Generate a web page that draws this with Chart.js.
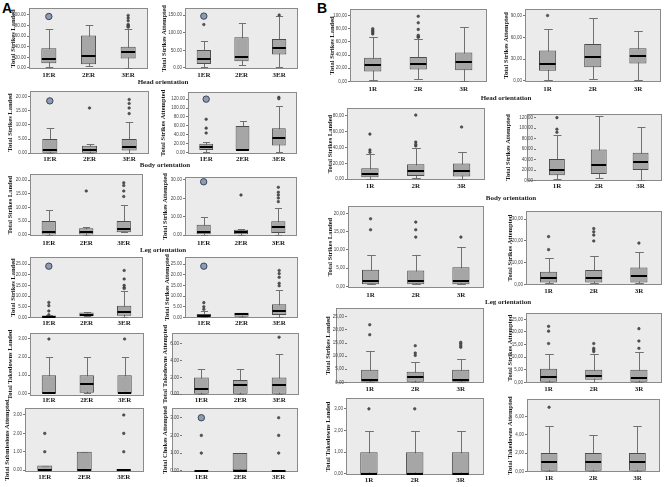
<!DOCTYPE html>
<html><head><meta charset="utf-8">
<script src="https://cdn.jsdelivr.net/npm/chart.js@4.4.1/dist/chart.umd.min.js"></script>
<style>
html,body{margin:0;padding:0;background:#fff;width:669px;height:487px;overflow:hidden;position:relative}
canvas{position:absolute}
.lbl{position:absolute;font-family:"Liberation Serif",serif;font-weight:bold;font-size:7px;color:#222;white-space:nowrap;transform:translate(-50%,-50%);opacity:0.999;will-change:transform}
.big{position:absolute;font-family:"Liberation Sans",Arial,sans-serif;font-weight:bold;font-size:14px;color:#000;line-height:14px}
</style></head><body>
<div class="big" style="left:2px;top:1px">A</div>
<div class="big" style="left:317px;top:1px">B</div>
<div class="lbl" style="left:163px;top:82px">Head orientation</div>
<div class="lbl" style="left:165px;top:165px">Body orientation</div>
<div class="lbl" style="left:163px;top:250px">Leg orientation</div>
<div class="lbl" style="left:506px;top:98px">Head orientation</div>
<div class="lbl" style="left:511px;top:198px">Body orientation</div>
<div class="lbl" style="left:508px;top:302px">Leg orientation</div>
<script>
// ---------- categories ----------
const catsA = ['1ER', '2ER', '3ER'];
const catsB = ['1R', '2R', '3R'];

// ---------- data: [lower whisker, Q1, median, Q3, upper whisker] per category ----------
// Panel A
const A_headLanded = [[2, 9, 16, 37, 73], [3, 7, 23, 61, 81], [0, 18, 30, 40, 73]];
const A_headLanded_out = [[], [], [99, 94, 89, 82, 80, 78, 77]];
const A_headLanded_mark = [97, null, null];
const A_headLanded_ticks = [0, 20, 40, 60, 80, 100];

const A_headAtt = [[4, 11, 25, 51, 75], [9, 19, 30, 87, 127], [2, 38, 56, 82, 147]];
const A_headAtt_out = [[123], [], [150]];
const A_headAtt_mark = [147, null, null];
const A_headAtt_ticks = [0, 50, 100, 150];

const A_bodyLanded = [[0, 0, 1.2, 5, 9], [0, 0, 1.2, 2.6, 3.2], [0, 0.9, 2.3, 5, 11]];
const A_bodyLanded_out = [[], [16], [19, 17.6, 16, 14]];
const A_bodyLanded_mark = [18.5, null, null];
const A_bodyLanded_ticks = [0, 5, 10, 15, 20];

const A_bodyAtt = [[2, 6, 13.5, 20, 25], [5, 5, 7, 60, 72], [2, 16, 32, 55, 104]];
const A_bodyAtt_out = [[75, 55, 44], [], [124, 121]];
const A_bodyAtt_mark = [120, null, null];
const A_bodyAtt_ticks = [0, 20, 40, 60, 80, 100, 120];

const A_legLanded = [[0, 0, 1.2, 5.1, 9], [0, 0, 1.2, 2.4, 3], [1, 1, 2.1, 5.1, 11]];
const A_legLanded_out = [[], [16], [19, 18, 16, 14]];
const A_legLanded_mark = [null, null, null];
const A_legLanded_ticks = [0, 5, 10, 15, 20];

const A_legAtt = [[0, 0.4, 1.8, 5.6, 10], [0, 0.4, 1.8, 2.9, 3.3], [0, 1.1, 4.2, 7.5, 15]];
const A_legAtt_out = [[], [21.8], [26, 23.3, 21.8, 20.2, 18.2]];
const A_legAtt_mark = [29, null, null];
const A_legAtt_ticks = [0, 10, 20, 30];

const A_r4Landed = [[0, 0, 0.3, 0.9, 0.9], [0.5, 0.5, 1.2, 2.3, 2.3], [0, 0.8, 2.5, 5.4, 12.4]];
const A_r4Landed_out = [[7, 5.5, 3, 1.2], [], [22, 18, 15, 14, 13.5]];
const A_r4Landed_mark = [24, null, null];
const A_r4Landed_ticks = [0, 5, 10, 15, 20, 25];

const A_r4Att = [[0, 0, 0.8, 1.6, 3], [0.3, 0.3, 1.4, 2.2, 2.2], [0, 1.1, 3.1, 6.2, 13]];
const A_r4Att_out = [[6.9, 5, 3.8], [], [22, 20.5, 18.8, 16, 14.8]];
const A_r4Att_mark = [24, null, null];
const A_r4Att_ticks = [0, 5, 10, 15, 20, 25];

const A_tdLanded = [[0, 0, 0, 1, 2], [0, 0, 0.5, 1, 2], [0, 0, 0, 1, 2]];
const A_tdLanded_out = [[3], [], [3]];
const A_tdLanded_mark = [null, null, null];
const A_tdLanded_ticks = [0, 1, 2, 3];

const A_tdAtt = [[0, 0, 0.6, 2, 3], [0, 0, 1.1, 1.7, 3], [0, 0, 1.1, 2, 4.8]];
const A_tdAtt_out = [[], [], [6.8]];
const A_tdAtt_mark = [null, null, null];
const A_tdAtt_ticks = [0, 2, 4, 6];

const A_subAtt = [[0, 0, 0, 0.25, 0.25], [0, 0, 0, 1, 1], [0, 0, 0, 0.03, 0.03]];
const A_subAtt_out = [[1, 2], [], [1, 2, 3]];
const A_subAtt_mark = [null, null, null];
const A_subAtt_ticks = [0, 1, 2, 3];

const A_chokeAtt = [[0, 0, 0, 0.05, 0.05], [0, 0, 0, 1, 1], [0, 0, 0, 0.05, 0.05]];
const A_chokeAtt_out = [[1, 2], [], [1, 2, 3]];
const A_chokeAtt_mark = [3, null, null];
const A_chokeAtt_ticks = [0, 1, 2, 3];

// Panel B
const B_headLanded = [[1.5, 15, 25, 36, 68], [3, 18, 26, 37, 64], [0, 17, 30, 44, 82]];
const B_headLanded_out = [[72, 74, 76, 78, 80], [67, 68, 70, 79, 89, 99], []];
const B_headLanded_ticks = [0, 20, 40, 60, 80, 100];

const B_headAtt = [[1, 14, 24, 42, 72], [3, 19, 33, 51, 86], [1, 24, 34, 45, 69]];
const B_headAtt_out = [[90], [], []];
const B_headAtt_ticks = [0, 30, 60, 90];

const B_bodyLanded = [[0.5, 2.5, 7, 14, 32], [1, 4, 10, 19, 40], [0.4, 3.4, 11, 20, 35]];
const B_bodyLanded_out = [[34, 37, 57], [42, 44, 47, 81], [66]];
const B_bodyLanded_ticks = [0, 20, 40, 60, 80];

const B_bodyAtt = [[2, 10, 20, 41, 86], [4, 12.5, 30, 59, 123], [1, 20, 36, 53, 103]];
const B_bodyAtt_out = [[92, 98, 120], [], []];
const B_bodyAtt_ticks = [0, 20, 40, 60, 80, 100, 120];

const B_legLanded = [[0.6, 0.6, 1.6, 4.6, 8.6], [0.6, 0.6, 1.6, 4.4, 8.6], [0.6, 0.6, 1.6, 5.3, 10.7]];
const B_legLanded_out = [[15.5, 18.5], [13.5, 15.5, 17.6], [13.5]];
const B_legLanded_ticks = [0, 5, 10, 15, 20];

const B_legAtt = [[0.8, 0.8, 3.1, 5.8, 12], [0.8, 0.8, 3.1, 6.6, 13], [0.8, 0.8, 3.8, 7.8, 15]];
const B_legAtt_out = [[16, 22], [20, 22.7, 24.2, 25.7], [19]];
const B_legAtt_ticks = [0, 10, 20, 30];

const B_r4Landed = [[0, 0, 1, 4.8, 11.9], [0, 0, 2, 4, 7.9], [0, 0, 1, 4.8, 8.9]];
const B_r4Landed_out = [[18.2, 22], [10.3, 11.2, 14], [13.4, 14, 14.7, 15.3]];
const B_r4Landed_ticks = [0, 5, 10, 15, 20, 25];

const B_r4Att = [[0, 0, 2, 5.4, 11.1], [0, 1, 2.6, 5, 11.1], [0, 0, 1.7, 5, 12.2]];
const B_r4Att_out = [[15.4, 20.3, 22.2], [12.2, 12.8, 13.5, 15.4], [13.5, 16.4, 21.3]];
const B_r4Att_ticks = [0, 5, 10, 15, 20, 25];

const B_tdLanded = [[0, 0, 0, 1, 2], [0, 0, 0, 1, 2], [0, 0, 0, 1, 2]];
const B_tdLanded_out = [[3], [3], []];
const B_tdLanded_ticks = [0, 1, 2, 3];

const B_tdAtt = [[0, 0, 1, 2, 5], [0, 0, 1, 2, 4], [0, 0, 1, 2, 5]];
const B_tdAtt_out = [[7], [], []];
const B_tdAtt_ticks = [0, 2, 4, 6];

const noMark = [null, null, null];

// ---------- layout (positions only) ----------
const panels = [
  {box: A_headLanded, out: A_headLanded_out, mark: A_headLanded_mark, ticks: A_headLanded_ticks, cats: catsA, title: 'Total Strikes Landed', dec: '.', L: 29, R: 152, T: 8, B: 69, catY: 75, tx: 13, min: -2, max: 113},
  {box: A_headAtt, out: A_headAtt_out, mark: A_headAtt_mark, ticks: A_headAtt_ticks, cats: catsA, title: 'Total Strikes Attempted', dec: '.', L: 185, R: 302, T: 8, B: 69, catY: 75, tx: 164, min: -3, max: 170},
  {box: A_bodyLanded, out: A_bodyLanded_out, mark: A_bodyLanded_mark, ticks: A_bodyLanded_ticks, cats: catsA, title: 'Total Strikes Landed', dec: '.', L: 30, R: 153, T: 91, B: 154, catY: 159, tx: 10, min: -0.3, max: 22},
  {box: A_bodyAtt, out: A_bodyAtt_out, mark: A_bodyAtt_mark, ticks: A_bodyAtt_ticks, cats: catsA, title: 'Total Strikes Attempted', dec: '.', L: 188, R: 301, T: 92, B: 154, catY: 159, tx: 163, min: -3, max: 136},
  {box: A_legLanded, out: A_legLanded_out, mark: A_legLanded_mark, ticks: A_legLanded_ticks, cats: catsA, title: 'Total Strikes Landed', dec: '.', L: 30, R: 146, T: 174, B: 236, catY: 243, tx: 10, min: -0.4, max: 22.2},
  {box: A_legAtt, out: A_legAtt_out, mark: A_legAtt_mark, ticks: A_legAtt_ticks, cats: catsA, title: 'Total Strikes Attempted', dec: '.', L: 185, R: 301, T: 177, B: 236, catY: 243, tx: 165, min: -0.5, max: 31.6},
  {box: A_r4Landed, out: A_r4Landed_out, mark: A_r4Landed_mark, ticks: A_r4Landed_ticks, cats: catsA, title: 'Total Strikes Landed', dec: '.', L: 30, R: 147, T: 257, B: 318, catY: 323, tx: 13, min: -0.3, max: 28.3},
  {box: A_r4Att, out: A_r4Att_out, mark: A_r4Att_mark, ticks: A_r4Att_ticks, cats: catsA, title: 'Total Strikes Attempted', dec: '.', L: 185, R: 302, T: 257, B: 318, catY: 323, tx: 167, min: -0.3, max: 28.3},
  {box: A_tdLanded, out: A_tdLanded_out, mark: A_tdLanded_mark, ticks: A_tdLanded_ticks, cats: catsA, title: 'Total Takedowns Landed', dec: '.', L: 30, R: 147, T: 333, B: 396, catY: 400, tx: 10, min: -0.15, max: 3.33},
  {box: A_tdAtt, out: A_tdAtt_out, mark: A_tdAtt_mark, ticks: A_tdAtt_ticks, cats: catsA, title: 'Total Takedowns Attempted', dec: '.', L: 182, R: 302, T: 333, B: 395, catY: 400, tx: 165, bg: 10, min: -0.1, max: 7.3},
  {box: A_subAtt, out: A_subAtt_out, mark: A_subAtt_mark, ticks: A_subAtt_ticks, cats: catsA, title: 'Total Submissions Attempted', dec: '.', L: 25, R: 147, T: 408, B: 472, catY: 477, tx: 7, min: -0.1, max: 3.38},
  {box: A_chokeAtt, out: A_chokeAtt_out, mark: A_chokeAtt_mark, ticks: A_chokeAtt_ticks, cats: catsA, title: 'Total Chokes Attempted', dec: '.', L: 182, R: 302, T: 408, B: 472, catY: 477, tx: 165, bg: 10, min: -0.07, max: 3.55},

  {box: B_headLanded, out: B_headLanded_out, mark: noMark, ticks: B_headLanded_ticks, cats: catsB, title: 'Total Strikes Landed', dec: ',', L: 350, R: 490, T: 9, B: 82, catY: 89, tx: 332, min: -1, max: 110},
  {box: B_headAtt, out: B_headAtt_out, mark: noMark, ticks: B_headAtt_ticks, cats: catsB, title: 'Total Strikes Attempted', dec: ',', L: 525, R: 664, T: 9, B: 82, catY: 89, tx: 506, min: -1.4, max: 99},
  {box: B_bodyLanded, out: B_bodyLanded_out, mark: noMark, ticks: B_bodyLanded_ticks, cats: catsB, title: 'Total Strikes Landed', dec: ',', L: 347, R: 488, T: 108, B: 180, catY: 186, tx: 330, min: -1, max: 90},
  {box: B_bodyAtt, out: B_bodyAtt_out, mark: noMark, ticks: B_bodyAtt_ticks, cats: catsB, title: 'Total Strikes Attempted', dec: ',', L: 536, R: 665, T: 114, B: 181, catY: 186, tx: 508, bg: 9, min: -1, max: 127},
  {box: B_legLanded, out: B_legLanded_out, mark: noMark, ticks: B_legLanded_ticks, cats: catsB, title: 'Total Strikes Landed', dec: ',', L: 348, R: 487, T: 206, B: 288, catY: 295, tx: 330, min: -0.4, max: 22},
  {box: B_legAtt, out: B_legAtt_out, mark: noMark, ticks: B_legAtt_ticks, cats: catsB, title: 'Total Strikes Attempted', dec: ',', L: 526, R: 665, T: 211, B: 285, catY: 291, tx: 510, min: -0.3, max: 33.8},
  {box: B_r4Landed, out: B_r4Landed_out, mark: noMark, ticks: B_r4Landed_ticks, cats: catsB, title: 'Total Strikes Landed', dec: ',', L: 347, R: 487, T: 308, B: 383, catY: 389, tx: 328, bg: 11, min: -0.25, max: 28.4},
  {box: B_r4Att, out: B_r4Att_out, mark: noMark, ticks: B_r4Att_ticks, cats: catsB, title: 'Total Strikes Attempted', dec: ',', L: 526, R: 665, T: 313, B: 383, catY: 389, tx: 510, min: -0.25, max: 27.5},
  {box: B_tdLanded, out: B_tdLanded_out, mark: noMark, ticks: B_tdLanded_ticks, cats: catsB, title: 'Total Takedowns Landed', dec: ',', L: 346, R: 487, T: 398, B: 475, catY: 480, tx: 328, min: -0.05, max: 3.5},
  {box: B_tdAtt, out: B_tdAtt_out, mark: noMark, ticks: B_tdAtt_ticks, cats: catsB, title: 'Total Takedowns Attempted', dec: ',', L: 527, R: 663, T: 399, B: 472, catY: 478, tx: 510, min: -0.07, max: 7.9}
];

function fmt(v, dec) { return Number(v).toFixed(2).replace('.', dec); }

function boxPlugin(p) {
  return {
    id: 'boxplot',
    beforeDraw(chart) {
      const a = chart.chartArea, ctx = chart.ctx;
      const gl = Math.round(a.left - (p.bg || 0));
      ctx.save();
      ctx.fillStyle = '#ebebeb';
      ctx.fillRect(gl, a.top, a.right - gl, a.bottom - a.top);
      ctx.strokeStyle = '#8a8a8a';
      ctx.lineWidth = 1;
      ctx.strokeRect(gl + 0.5, Math.round(a.top) + 0.5, Math.round(a.right - gl) - 1, Math.round(a.bottom - a.top) - 1);
      ctx.restore();
    },
    beforeDatasetsDraw(chart) {
      const xs = chart.scales.x, ys = chart.scales.y, ctx = chart.ctx;
      const meta = chart.getDatasetMeta(0);
      ctx.save();
      ctx.strokeStyle = '#707070';
      ctx.lineWidth = 1;
      p.box.forEach((s, i) => {
        const w = meta.data[i].width;
        const cx = Math.round(xs.getPixelForValue(i)) + 0.5;
        const yl = Math.round(ys.getPixelForValue(s[0])) + 0.5;
        const yh = Math.round(ys.getPixelForValue(s[4])) + 0.5;
        const cw = w * 0.25;
        ctx.beginPath();
        ctx.moveTo(cx, yl); ctx.lineTo(cx, yh);
        ctx.moveTo(cx - cw, yl); ctx.lineTo(cx + cw, yl);
        ctx.moveTo(cx - cw, yh); ctx.lineTo(cx + cw, yh);
        ctx.stroke();
      });
      ctx.restore();
    },
    afterDatasetsDraw(chart) {
      const ys = chart.scales.y, ctx = chart.ctx;
      const meta = chart.getDatasetMeta(0);
      ctx.save();
      ctx.strokeStyle = '#000';
      ctx.lineWidth = 2;
      p.box.forEach((s, i) => {
        const el = meta.data[i];
        const y = Math.round(ys.getPixelForValue(s[2]));
        ctx.beginPath();
        ctx.moveTo(el.x - el.width / 2 + 0.5, y);
        ctx.lineTo(el.x + el.width / 2 - 0.5, y);
        ctx.stroke();
      });
      ctx.restore();
    }
  };
}

panels.forEach(p => {
  const cl = Math.round(p.tx - 4);
  const yw = p.L - cl;
  const ct = p.T - 8;
  const xh = p.catY - p.B + 6;
  const cv = document.createElement('canvas');
  const W = p.R - cl + 1, H = p.B - ct + xh;
  cv.width = W; cv.height = H;
  cv.style.left = cl + 'px'; cv.style.top = ct + 'px';
  cv.style.width = W + 'px'; cv.style.height = H + 'px';
  document.body.appendChild(cv);

  const outPts = [];
  p.out.forEach((arr, i) => arr.forEach(v => outPts.push({x: p.cats[i], y: v})));
  const markPts = [];
  p.mark.forEach((v, i) => { if (v !== null) markPts.push({x: p.cats[i], y: v}); });

  new Chart(cv, {
    type: 'bar',
    data: {
      labels: p.cats,
      datasets: [
        {type: 'bar', data: p.box.map(b => [b[1], b[3]]), backgroundColor: '#a6a6a6', borderColor: '#4d4d4d', borderWidth: 1, borderSkipped: false, barPercentage: 0.38, categoryPercentage: 1, order: 3},
        {type: 'scatter', data: outPts, pointRadius: 1.3, pointBackgroundColor: '#555', pointBorderColor: '#333', pointBorderWidth: 0.5, order: 2},
        {type: 'scatter', data: markPts, pointRadius: 3.2, pointBackgroundColor: '#8e9bb0', pointBorderColor: '#3b4658', pointBorderWidth: 1, order: 1}
      ]
    },
    options: {
      responsive: false,
      animation: false,
      devicePixelRatio: 1,
      events: [],
      layout: {padding: {top: 8, right: 1, left: 0, bottom: 0}},
      plugins: {legend: {display: false}, tooltip: {enabled: false}},
      scales: {
        x: {
          type: 'category', offset: true,
          grid: {display: false, drawTicks: false}, border: {display: false},
          ticks: {font: {family: 'Liberation Serif', weight: 'bold', size: 7}, color: '#1a1a1a', padding: Math.max(0, p.catY - p.B - 4.2), maxRotation: 0, autoSkip: false},
          afterFit: s => { s.height = xh; }
        },
        y: {
          type: 'linear', min: p.min, max: p.max,
          grid: {display: true, drawOnChartArea: false, drawTicks: true, tickLength: 2, color: '#777'},
          border: {display: false},
          afterBuildTicks: s => { s.ticks = p.ticks.map(v => ({value: v})); },
          ticks: {font: {family: 'Liberation Sans', size: 4.5}, color: '#444', padding: 1, autoSkip: false, callback: v => fmt(v, p.dec)},
          title: {display: true, text: p.title, font: {family: 'Liberation Serif', weight: 'bold', size: 6.5}, color: '#1a1a1a', padding: 0},
          afterFit: s => { s.width = yw; }
        }
      }
    },
    plugins: [boxPlugin(p)]
  });
});
</script>
</body></html>
